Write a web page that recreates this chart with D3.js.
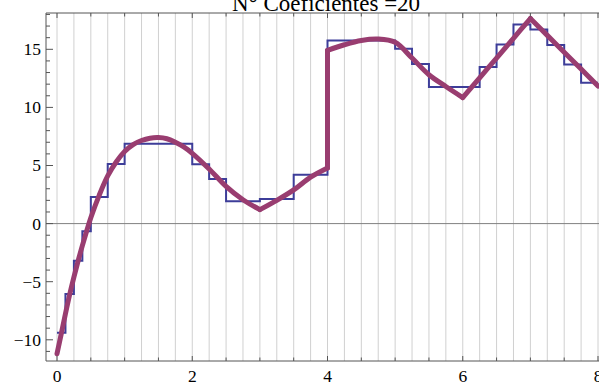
<!DOCTYPE html>
<html>
<head>
<meta charset="utf-8">
<script src="https://cdn.jsdelivr.net/npm/d3@7"></script>
<style>
  body { margin: 0; background: #fff; }
  text { font-family: "Liberation Serif", "Times New Roman", serif; }
</style>
</head>
<body>
<div id="chart"></div>
<script>
// title of the plot
const title = "N° Coeficientes =20";

// step approximation: interval edges and the level on each interval
const stepEdges = [0, 0.125, 0.25, 0.375, 0.5, 0.75, 1, 2, 2.25, 2.5, 3, 3.5, 4, 5, 5.25, 5.5, 6.25, 6.5, 6.75, 7, 7.25, 7.5, 7.75, 8];
const stepLevels = [-9.4, -6.05, -3.2, -0.66, 2.29, 5.13, 6.88, 5.1, 3.84, 1.92, 2.12, 4.21, 15.76, 15.05, 13.73, 11.75, 13.47, 15.42, 17.14, 16.71, 15.36, 13.7, 12.12];

// original function
const curveX = [0, 0.0625, 0.125, 0.1875, 0.25, 0.3125, 0.375, 0.4375, 0.5, 0.625, 0.75, 0.875, 1, 1.125, 1.25, 1.375, 1.5, 1.625, 1.75, 1.875, 2, 2.25, 2.5, 2.75, 3, 3.25, 3.5, 3.75, 4, 4, 4.25, 4.5, 4.75, 5, 5.25, 5.5, 5.75, 6, 6.25, 6.5, 6.75, 7, 7.25, 7.5, 7.75, 8];
const curveY = [-11.2, -9.5, -7.75, -6.1, -4.6, -3.2, -1.9, -0.66, 0.5, 2.45, 4.1, 5.3, 6.2, 6.8, 7.15, 7.35, 7.4, 7.3, 7.0, 6.6, 6.05, 4.7, 3.2, 2.05, 1.2, 2.0, 2.9, 4.0, 4.79, 14.9, 15.39, 15.76, 15.88, 15.6, 14.25, 12.81, 11.8, 10.85, 12.55, 14.25, 15.95, 17.65, 16.2, 14.75, 13.3, 11.84];
// indices where the curve has a corner or a jump
const cornerIdx = [24, 28, 29, 37, 41];

// axis ticks
const xLabels = [0, 2, 4, 6, 8];
const yLabels = [-10, -5, 0, 5, 10, 15];

const w = 599, h = 385;
const frame = { left: 46, top: 13, right: 599, bottom: 361 };

const svg = d3.select("#chart").append("svg")
    .attr("width", w)
    .attr("height", h);

const x = d3.scaleLinear().domain([0, 8]).range([57, 598]);
const y = d3.scaleLinear().domain([-10, 15]).range([339.8, 49.3]);

// vertical grid every 0.25
svg.append("g").selectAll("line")
    .data(d3.range(0, 8.01, 0.25))
    .enter().append("line")
    .attr("x1", d => x(d)).attr("x2", d => x(d))
    .attr("y1", frame.top).attr("y2", frame.bottom)
    .attr("stroke", "#d0d0d0")
    .attr("stroke-width", 1);

// zero line
svg.append("line")
    .attr("x1", frame.left).attr("x2", frame.right)
    .attr("y1", y(0)).attr("y2", y(0))
    .attr("stroke", "#808080")
    .attr("stroke-width", 1);

// step function
const stepPts = stepLevels.map((v, i) => [stepEdges[i], v]);
stepPts.push([stepEdges[stepEdges.length - 1], stepLevels[stepLevels.length - 1]]);
svg.append("path")
    .datum(stepPts)
    .attr("fill", "none")
    .attr("stroke", "#3d3d99")
    .attr("stroke-width", 2)
    .attr("d", d3.line().x(d => x(d[0])).y(d => y(d[1])).curve(d3.curveStepAfter));

// smooth curve, drawn piece by piece so corners and the jump stay sharp
const curvePts = curveX.map((v, i) => [v, curveY[i]]);
const cuts = [0, ...cornerIdx, curvePts.length - 1];
const pieces = [];
for (let i = 0; i < cuts.length - 1; i++) {
    pieces.push(curvePts.slice(cuts[i], cuts[i + 1] + 1));
}
const smooth = d3.line().x(d => x(d[0])).y(d => y(d[1])).curve(d3.curveCatmullRom.alpha(0.5));
svg.append("g").selectAll("path")
    .data(pieces)
    .enter().append("path")
    .attr("fill", "none")
    .attr("stroke", "#993d70")
    .attr("stroke-width", 5)
    .attr("stroke-linejoin", "round")
    .attr("stroke-linecap", "round")
    .attr("d", smooth);

// frame
const axisColor = "#555";
svg.append("line").attr("x1", frame.left).attr("x2", frame.left).attr("y1", frame.top).attr("y2", frame.bottom).attr("stroke", axisColor);
svg.append("line").attr("x1", frame.left).attr("x2", frame.right).attr("y1", frame.bottom).attr("y2", frame.bottom).attr("stroke", axisColor);
svg.append("line").attr("x1", frame.left).attr("x2", frame.right).attr("y1", frame.top).attr("y2", frame.top).attr("stroke", axisColor);

// x ticks (every 0.5, longer at labelled ones)
const xTicks = d3.range(0, 8.01, 0.5);
svg.append("g").selectAll("line")
    .data(xTicks)
    .enter().append("line")
    .attr("x1", d => x(d)).attr("x2", d => x(d))
    .attr("y1", frame.bottom)
    .attr("y2", d => frame.bottom - (d % 2 === 0 ? 5 : 3.5))
    .attr("stroke", axisColor);
svg.append("g").selectAll("line")
    .data(xTicks)
    .enter().append("line")
    .attr("x1", d => x(d)).attr("x2", d => x(d))
    .attr("y1", frame.top)
    .attr("y2", d => frame.top + (d % 2 === 0 ? 5 : 3.5))
    .attr("stroke", axisColor);

// y ticks (every 1, longer at labelled ones)
svg.append("g").selectAll("line")
    .data(d3.range(-11, 19, 1))
    .enter().append("line")
    .attr("x1", frame.left)
    .attr("x2", d => frame.left + (d % 5 === 0 ? 7 : 4))
    .attr("y1", d => y(d)).attr("y2", d => y(d))
    .attr("stroke", axisColor);

// labels
const fmt = d => d < 0 ? "\u2212" + Math.abs(d) : String(d);
svg.append("g").selectAll("text")
    .data(xLabels)
    .enter().append("text")
    .attr("x", d => x(d))
    .attr("y", 381.5)
    .attr("text-anchor", "middle")
    .style("font-size", "17.5px")
    .text(fmt);
svg.append("g").selectAll("text")
    .data(yLabels)
    .enter().append("text")
    .attr("x", 41)
    .attr("y", d => y(d))
    .attr("dy", "0.34em")
    .attr("text-anchor", "end")
    .style("font-size", "17.5px")
    .text(fmt);

svg.append("text")
    .attr("x", 326)
    .attr("y", 11)
    .attr("text-anchor", "middle")
    .style("font-size", "23px")
    .text(title);
</script>
</body>
</html>
